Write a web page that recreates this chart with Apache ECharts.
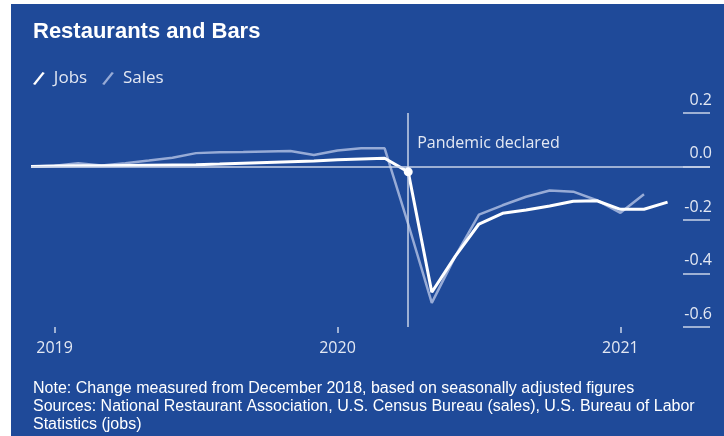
<!DOCTYPE html>
<html><head><meta charset="utf-8">
<script src="https://cdn.jsdelivr.net/npm/echarts@6/dist/echarts.min.js"></script>
<style>html,body{margin:0;padding:0;background:#fff}#c{width:724px;height:436px}</style>
</head><body><div id="c"></div>
<script>
// ---- data ----
const months = ['2018-12','2019-01','2019-02','2019-03','2019-04','2019-05','2019-06','2019-07','2019-08','2019-09','2019-10','2019-11','2019-12',
  '2020-01','2020-02','2020-03','2020-04','2020-05','2020-06','2020-07','2020-08','2020-09','2020-10','2020-11','2020-12',
  '2021-01','2021-02','2021-03'];
const jobs = [0, 0.002, 0.003, 0.003, 0.004, 0.005, 0.006, 0.007, 0.009, 0.012, 0.015, 0.018, 0.021,
  0.025, 0.028, 0.031, -0.02, -0.47, -0.335, -0.215, -0.175, -0.163, -0.148, -0.13, -0.128,
  -0.16, -0.16, -0.133];
const sales = [0, 0.003, 0.012, 0.004, 0.012, 0.022, 0.033, 0.05, 0.053, 0.054, 0.056, 0.058, 0.043,
  0.06, 0.068, 0.068, -0.215, -0.51, -0.335, -0.18, -0.145, -0.113, -0.09, -0.094, -0.126,
  -0.173, -0.104];
const yearTicks = ['2019', '2020', '2021'];
const yTicks = [-0.6, -0.4, -0.2, 0.0, 0.2];
const pandemicMonth = '2020-04';
const pandemicLabel = 'Pandemic declared';
const titleText = 'Restaurants and Bars';
const noteLines = [
  'Note: Change measured from December 2018, based on seasonally adjusted figures',
  'Sources: National Restaurant Association, U.S. Census Bureau (sales), U.S. Bureau of Labor',
  'Statistics (jobs)'
];

// ---- helpers ----
function monthIndex(m) { const p = m.split('-').map(Number); return (p[0] - 2019) * 12 + (p[1] - 1); }
const jobsData = jobs.map((v, i) => [monthIndex(months[i]), v]);
const salesData = sales.map((v, i) => [monthIndex(months[i]), v]);
const yearIdx = yearTicks.map(y => monthIndex(y + '-01'));
const pIdx = monthIndex(pandemicMonth);
const pJobs = jobs[months.indexOf(pandemicMonth)];

const BG = '#1f4a99';
const LIGHT = '#c9d3e8';
const TXT = '#e3e8f3';
const labelFont = '"Open Sans", "Noto Sans", sans-serif';
const slash = 'path://M0,11.2 L9,0 L11,1 L2,12.2 Z';

const chart = echarts.init(document.getElementById('c'), null, { renderer: 'canvas' });
chart.setOption({
  backgroundColor: '#ffffff',
  animation: false,
  graphic: [{ type: 'rect', shape: { x: 11, y: 4, width: 713, height: 432 }, style: { fill: BG }, z: -10, silent: true }],
  title: [
    { text: titleText, left: 33, top: 21, padding: 0, textStyle: { color: '#ffffff', fontSize: 22, fontWeight: 'bold', fontFamily: '"Liberation Sans", Arial, sans-serif' } },
    { text: noteLines.join('\n'), left: 33, top: 380, padding: 0, textStyle: { color: '#ffffff', fontSize: 16, fontWeight: 'normal', lineHeight: 18, fontFamily: '"Liberation Sans", Arial, sans-serif' } }
  ],
  legend: {
    left: 33, top: 70, padding: 0, itemWidth: 12, itemHeight: 13, itemGap: 15,
    data: [{ name: 'Jobs', icon: slash }, { name: 'Sales', icon: slash }],
    textStyle: { color: TXT, fontSize: 17, fontFamily: labelFont, padding: [0, 0, 0, 4] }
  },
  grid: { left: 31, right: 14, top: 113, bottom: 109, containLabel: false },
  xAxis: {
    type: 'value', min: -1, max: 27.8,
    axisLine: { show: false, onZero: false },
    splitLine: { show: false },
    axisTick: { show: true, customValues: yearIdx, length: 6, lineStyle: { color: LIGHT, width: 1.5 } },
    axisLabel: { customValues: yearIdx, formatter: v => yearTicks[yearIdx.indexOf(v)] || '', color: TXT, fontSize: 16, fontFamily: labelFont, margin: 13 }
  },
  yAxis: {
    type: 'value', position: 'right', min: -0.6, max: 0.2, interval: 0.2,
    axisLine: { show: false, onZero: false },
    splitLine: { show: false },
    axisTick: { show: true, inside: true, length: 27, lineStyle: { color: LIGHT, width: 1.5 } },
    axisLabel: { inside: true, margin: -2, verticalAlign: 'bottom', padding: [0, 0, 5, 0], color: TXT, fontSize: 16, fontFamily: labelFont,
      formatter: v => { const t = yTicks.find(x => Math.abs(x - v) < 1e-6); return t === undefined ? '' : t.toFixed(1); } }
  },
  series: [
    {
      name: 'Sales', type: 'line', data: salesData, symbol: 'none', z: 2,
      color: '#97abd6',
      lineStyle: { width: 2.5, color: '#97abd6' },
      markLine: {
        silent: true, symbol: 'none', label: { show: false },
        lineStyle: { color: LIGHT, width: 1.5, type: 'solid' },
        data: [{ yAxis: 0 }, { xAxis: pIdx }]
      }
    },
    {
      name: 'Jobs', type: 'line', data: jobsData, symbol: 'none', z: 3,
      color: '#ffffff',
      lineStyle: { width: 3, color: '#ffffff' },
      markPoint: {
        silent: true,
        data: [
          { coord: [pIdx, pJobs], symbol: 'circle', symbolSize: 9, itemStyle: { color: '#ffffff' }, label: { show: false } },
          { coord: [pIdx, 0.088], symbol: 'circle', symbolSize: 0, itemStyle: { color: 'transparent' },
            label: { show: true, position: 'right', distance: 9, formatter: pandemicLabel, color: TXT, fontSize: 16, fontFamily: labelFont } }
        ]
      }
    }
  ]
});
</script></body></html>
